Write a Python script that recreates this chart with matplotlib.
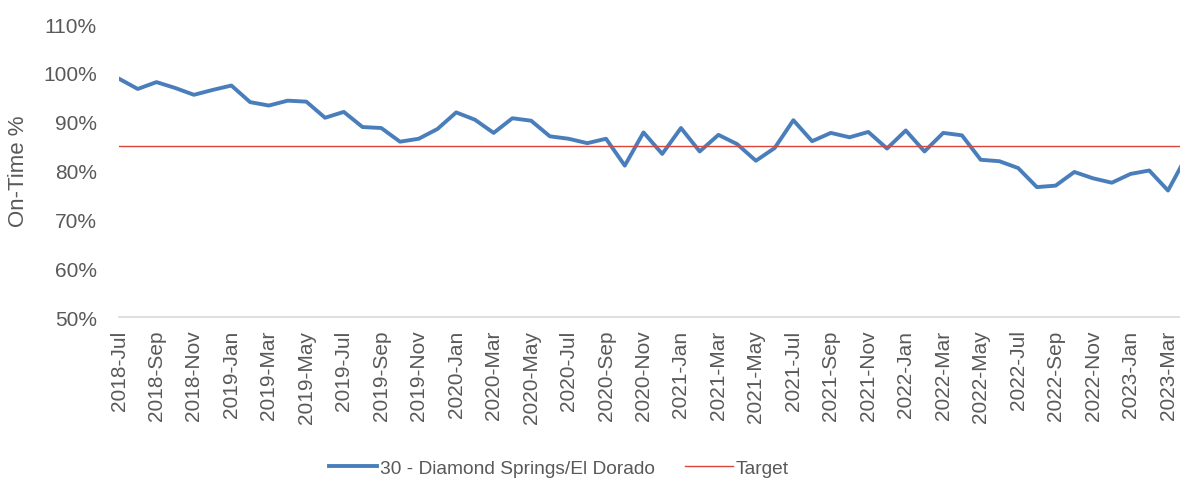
import matplotlib
matplotlib.use("Agg")
import matplotlib.pyplot as plt
import numpy as np

# ── data ────────────────────────────────────
months = [
    "2018-Jul", "2018-Aug", "2018-Sep", "2018-Oct", "2018-Nov", "2018-Dec",
    "2019-Jan", "2019-Feb", "2019-Mar", "2019-Apr", "2019-May", "2019-Jun",
    "2019-Jul", "2019-Aug", "2019-Sep", "2019-Oct", "2019-Nov", "2019-Dec",
    "2020-Jan", "2020-Feb", "2020-Mar", "2020-Apr", "2020-May", "2020-Jun",
    "2020-Jul", "2020-Aug", "2020-Sep", "2020-Oct", "2020-Nov", "2020-Dec",
    "2021-Jan", "2021-Feb", "2021-Mar", "2021-Apr", "2021-May", "2021-Jun",
    "2021-Jul", "2021-Aug", "2021-Sep", "2021-Oct", "2021-Nov", "2021-Dec",
    "2022-Jan", "2022-Feb", "2022-Mar", "2022-Apr", "2022-May", "2022-Jun",
    "2022-Jul", "2022-Aug", "2022-Sep", "2022-Oct", "2022-Nov", "2022-Dec",
    "2023-Jan", "2023-Feb", "2023-Mar", "2023-Apr",
]
on_time = [
    98.8, 96.7, 98.1, 96.9, 95.5, 96.5, 97.4, 94.0, 93.3, 94.3, 94.1, 90.8,
    92.0, 88.9, 88.7, 85.9, 86.5, 88.5, 91.9, 90.4, 87.7, 90.7, 90.2, 87.0,
    86.5, 85.6, 86.5, 81.0, 87.8, 83.4, 88.7, 83.9, 87.3, 85.4, 82.0, 84.6,
    90.3, 86.0, 87.7, 86.8, 87.9, 84.5, 88.2, 83.9, 87.7, 87.2, 82.2, 81.9,
    80.5, 76.6, 76.9, 79.7, 78.4, 77.5, 79.3, 80.0, 75.9, 83.0,
]
target = 85.0

series_name = "30 - Diamond Springs/El Dorado"
BLUE = "#4a7ebb"
RED = "#d9463b"
GREY = "#595959"

plt.rcParams["font.family"] = ["Liberation Sans", "DejaVu Sans"]

fig = plt.figure(figsize=(11.8, 4.81), dpi=100)
ax = fig.add_axes([119 / 1180, 1 - 318 / 481, 1 - 119 / 1180, (318 - 25) / 481])

x = np.arange(len(months))
ax.plot(x, on_time, color=BLUE, linewidth=2.8, label=series_name,
        solid_joinstyle="round")
ax.plot([x[0], x[-1]], [target, target], color=RED, linewidth=1.0, label="Target")

ax.set_xlim(0, 56.64)
ax.set_ylim(50, 110)
ax.set_yticks(range(50, 111, 10))
ax.set_yticklabels([f"{v}%" for v in range(50, 111, 10)])
ax.set_xticks(x[::2])
ax.set_xticklabels(months[::2], rotation=90)

for s in ["top", "right", "left"]:
    ax.spines[s].set_visible(False)
ax.spines["bottom"].set_color("#d9d9d9")
ax.spines["bottom"].set_linewidth(1.2)
ax.tick_params(axis="both", length=0, labelsize=15, colors=GREY)
ax.tick_params(axis="y", pad=16)
ax.tick_params(axis="x", pad=9)

ax.set_ylabel("On-Time %", fontsize=16, color=GREY)
ax.yaxis.set_label_coords(-0.085, 0.5)

leg = fig.legend(loc="center", bbox_to_anchor=(559 / 1180, 1 - 469 / 481),
                 ncol=2, frameon=False, fontsize=13.8, handlelength=2.5,
                 handletextpad=0.15, columnspacing=1.6)
for t in leg.get_texts():
    t.set_color(GREY)

fig.savefig("out.png", dpi=100)
